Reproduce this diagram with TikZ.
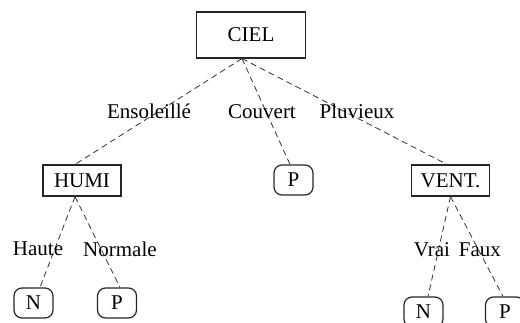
\documentclass[tikz,border=0pt]{standalone}
\usepackage{fontspec}
\setmainfont{Liberation Serif}
\usetikzlibrary{positioning}
\tikzset{
    %Define style for test boxes
    testbox/.style={
           rectangle,
           draw=black!85, semithick,
           minimum width=39pt,
           minimum height=15.5pt,
           inner sep=1pt,
           font=\fontsize{10.5}{12}\selectfont,
           text centered},
    rootbox/.style={
           testbox,
           minimum width=54.5pt,
           minimum height=23pt},
    %Define style for leaves
    leaf/.style={
           rectangle,
           rounded corners=4pt,
           draw=black!85, semithick,
           minimum width=19.5pt,
           minimum height=15pt,
           inner sep=1pt,
           font=\fontsize{10.5}{12}\selectfont,
           text centered},
    % Define branch style
    branch/.style={
           dashed,
           dash pattern=on 3pt off 2pt,
           draw=black!80,
           thin}
}

\begin{document}
\begin{tikzpicture}[x=0.5pt,y=-0.5pt]
\useasboundingbox (0,0) rectangle (520,322);
\clip (0,0) rectangle (520,322);
 %nodes
\node[rootbox] (ciel) at (251,35) {CIEL};
\node[testbox] (humi) at (82,180.5) {HUMI};
\node[leaf] (couvP) at (293.5,180) {P};
\node[testbox] (vent) at (450.5,180.5) {VENT.};
\node[leaf] (hauteN) at (33.5,303) {N};
\node[leaf] (normP) at (117,303) {P};
\node[leaf] (vraiN) at (423.5,312) {N};
\node[leaf] (fauxP) at (505,312) {P};
 %branches
\path[branch, every node/.style={font=\fontsize{10.5}{12}\selectfont}]
  ([xshift=-4.5pt]ciel.south) edge node[pos=.5, xshift=-4.75pt]{Ensoleillé} ([xshift=-3.5pt]humi.north)
  ([xshift=-4.5pt]ciel.south) edge node[pos=.5, xshift=-2pt]{Couvert} ([xshift=-1.75pt]couvP.north)
  ([xshift=-4.5pt]ciel.south) edge node[pos=.5, xshift=6.25pt]{Pluvieux} ([xshift=-1.75pt]vent.north)
  ([xshift=-3.5pt]humi.south) edge node[pos=.576, xshift=-8.4pt]{Haute} ([xshift=3.25pt]hauteN.north)
  ([xshift=-3.5pt]humi.south) edge node[pos=.576, xshift=9.5pt]{Normale} ([xshift=1.5pt]normP.north)
  (vent.south) edge node[pos=.535, xshift=-3.25pt]{Vrai} ([xshift=2.25pt]vraiN.north)
  (vent.south) edge node[pos=.535, xshift=.7pt]{Faux} ([xshift=-1pt]fauxP.north);
\end{tikzpicture}
\end{document}
